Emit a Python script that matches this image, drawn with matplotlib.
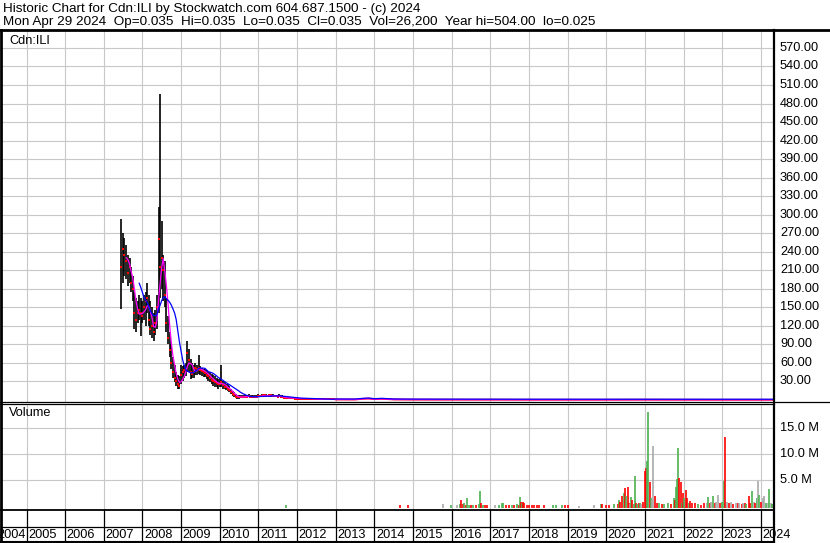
import matplotlib
matplotlib.use('Agg')
import matplotlib.pyplot as plt
import numpy as np
import pandas as pd

plt.rcParams['font.family'] = ['Liberation Sans', 'DejaVu Sans']

# ---- price bars, twice a month, 15 Jun 2007 .. 15 Dec 2012 ----
high = [293, 270, 262, 250, 235, 230, 215, 200, 175, 165, 160, 170, 165,                       # 2007
        160, 170, 175, 190, 170, 160, 150, 140, 145, 170, 313, 496,
        290, 235, 225, 165, 135, 110, 90, 70, 56, 45, 40, 38,                                   # 2008
        56, 55, 56, 60, 96, 82, 66, 60, 56, 60, 56, 72,
        55, 52, 50, 50, 48, 45, 45, 42, 40, 38, 35, 34,                                         # 2009
        35, 57, 30, 28, 26, 25, 22, 18, 15, 12, 10, 8,
        8, 7, 8, 8, 8, 8, 9, 8, 8, 8, 7, 7,                                                     # 2010
        9, 8, 9, 10, 9, 9, 8, 9, 10, 9, 8, 8,
        8, 9, 8, 7, 6, 5, 5, 5, 5, 4, 4, 4,                                                     # 2011
        4, 3, 3, 3, 3, 3, 3, 3, 2, 2, 2, 2,
        2, 2, 2, 2, 2, 2, 1, 1, 1, 1, 1, 1]                                                     # 2012
low = [147, 190, 200, 195, 185, 190, 175, 160, 115, 110, 125, 130, 104,
       125, 130, 120, 140, 120, 105, 100, 96, 105, 115, 140, 165,
       180, 160, 150, 110, 90, 70, 50, 35, 29, 22, 18, 17,
       26, 30, 35, 38, 45, 45, 34, 35, 35, 40, 40, 42,
       40, 38, 37, 37, 33, 30, 29, 25, 22, 21, 20, 18,
       20, 20, 18, 17, 16, 14, 12, 10, 6, 4, 3, 2,
       2, 3, 3, 4, 4, 4, 4, 4, 4, 4, 3, 3,
       4, 4, 5, 5, 5, 5, 4, 5, 5, 5, 4, 4,
       4, 4, 3, 3, 2, 2, 2, 2, 2, 2, 2, 2,
       1, 1, 1, 1, 1, 1, 1, 1, 1, 1, 1, 1,
       0.5, 0.5, 0.5, 0.5, 0.5, 0.5, 0.3, 0.3, 0.3, 0.3, 0.3, 0.3]
close = [215, 245, 235, 225, 205, 215, 190, 180, 140, 130, 140, 145, 140,
         135, 150, 160, 165, 130, 115, 120, 110, 125, 150, 260, 215,
         230, 210, 170, 125, 100, 80, 60, 45, 35, 30, 25, 22,
         40, 45, 48, 50, 75, 65, 45, 42, 45, 52, 50, 52,
         48, 46, 45, 44, 40, 38, 35, 32, 30, 28, 27, 25,
         26, 28, 24, 21, 20, 18, 16, 13, 9, 7, 5, 4,
         4, 5, 5, 5, 5, 5, 6, 5, 5, 5, 5, 5,
         6, 6, 6, 7, 7, 6, 6, 7, 7, 6, 6, 6,
         5, 6, 5, 4, 3, 3, 3, 3, 3, 3, 3, 2,
         2, 2, 2, 2, 2, 2, 2, 2, 1.5, 1.5, 1.5, 1.5,
         1, 1, 1, 1, 1, 1, 0.8, 0.8, 0.5, 0.5, 0.5, 0.5]

# after 2012 the stock sits near zero
tail_year = [2013.0, 2013.5, 2013.7, 2013.85, 2014.0, 2014.2, 2014.5, 2015.0, 2016.0,
             2017.0, 2018.0, 2019.0, 2020.0, 2021.0, 2022.0, 2023.0, 2024.0, 2024.33]
tail_close = [0.5, 0.4, 1.5, 2.0, 1.0, 1.5, 0.5, 0.3, 0.2,
              0.2, 0.1, 0.1, 0.1, 0.2, 0.1, 0.05, 0.04, 0.035]
tail_high = [1, 1, 3, 3, 2, 3, 1, 0.5, 0.4, 0.4, 0.2, 0.2, 0.2, 0.4, 0.2, 0.1, 0.1, 0.035]

# ---- weekly volume (millions), u = up week, d = down week, n = unchanged ----
vol_year = [2011.72, 2014.67, 2014.87, 2015.78, 2015.97, 2016.13, 2016.22, 2016.25, 2016.28, 2016.32,
            2016.36, 2016.40, 2016.45, 2016.49, 2016.55, 2016.62, 2016.70, 2016.73, 2016.76, 2016.80,
            2016.85, 2016.92, 2017.11, 2017.22, 2017.30, 2017.34, 2017.40, 2017.48, 2017.55, 2017.61,
            2017.70, 2017.74, 2017.77, 2017.80, 2017.82, 2017.85, 2017.87, 2017.94, 2018.00, 2018.07,
            2018.13, 2018.20, 2018.26, 2018.39, 2018.63, 2018.69, 2018.86, 2018.93, 2019.00, 2019.30,
            2019.69, 2019.85, 2019.90, 2019.99, 2020.07, 2020.20, 2020.29, 2020.33, 2020.36, 2020.40,
            2020.45, 2020.48, 2020.51, 2020.56, 2020.59, 2020.62, 2020.65, 2020.67, 2020.71, 2020.73,
            2020.76, 2020.79, 2020.85, 2020.88, 2020.91, 2020.96, 2021.00, 2021.03, 2021.05, 2021.09,
            2021.13, 2021.15, 2021.19, 2021.22, 2021.26, 2021.31, 2021.37, 2021.43, 2021.50, 2021.59,
            2021.67, 2021.74, 2021.77, 2021.80, 2021.83, 2021.86, 2021.89, 2021.92, 2021.95, 2021.98,
            2022.02, 2022.06, 2022.10, 2022.14, 2022.17, 2022.23, 2022.29, 2022.36, 2022.45, 2022.53,
            2022.60, 2022.64, 2022.68, 2022.71, 2022.76, 2022.80, 2022.84, 2022.90, 2022.95, 2022.99,
            2023.04, 2023.08, 2023.12, 2023.18, 2023.23, 2023.27, 2023.35, 2023.40, 2023.44, 2023.50,
            2023.53, 2023.58, 2023.61, 2023.68, 2023.73, 2023.77, 2023.81, 2023.86, 2023.90, 2023.92,
            2023.96, 2024.00, 2024.05, 2024.09, 2024.13, 2024.18, 2024.22, 2024.26, 2024.30]
vol_mil = [0.15, 0.1, 0.1, 0.45, 0.15, 0.1, 0.3, 1.2, 0.3, 0.5,
           0.2, 1.6, 0.2, 0.15, 0.2, 0.1, 0.3, 2.9, 0.55, 0.2,
           0.15, 0.2, 0.15, 0.15, 0.5, 0.55, 0.2, 0.15, 0.1, 0.15,
           0.3, 0.15, 1.7, 0.8, 0.6, 0.8, 0.5, 0.2, 0.15, 0.1,
           0.1, 0.1, 0.1, 0.15, 0.15, 0.1, 0.15, 0.2, 0.15, 0.05,
           0.1, 0.45, 0.35, 0.1, 0.2, 0.3, 0.3, 1.2, 0.7, 1.9,
           2.6, 3.4, 2.0, 3.7, 0.6, 0.3, 1.7, 1.2, 0.4, 5.8,
           0.5, 0.3, 0.6, 0.5, 0.3, 0.8, 6.8, 7.3, 8.6, 18.2,
           4.6, 1.5, 1.2, 11.6, 1.9, 0.6, 0.5, 0.3, 0.4, 0.5,
           0.3, 1.6, 1.2, 3.7, 5.2, 11.2, 5.4, 4.7, 0.5, 2.5,
           1.6, 3.1, 1.5, 0.6, 1.0, 0.5, 0.6, 0.3, 0.2, 0.5,
           0.6, 1.8, 0.5, 0.7, 2.0, 0.5, 0.8, 2.1, 0.6, 0.8,
           4.85, 13.3, 0.8, 0.6, 0.7, 0.4, 0.6, 0.5, 0.5, 0.4,
           0.6, 0.5, 0.3, 1.9, 0.5, 2.9, 0.8, 0.5, 1.5, 4.9,
           2.1, 0.8, 1.5, 1.9, 0.6, 0.5, 3.3, 0.6, 0.3]
vol_dir = ['u', 'd', 'd', 'n', 'u', 'n', 'u', 'd', 'd', 'u',
           'd', 'u', 'u', 'd', 'u', 'd', 'u', 'u', 'd', 'u',
           'd', 'd', 'n', 'u', 'u', 'u', 'd', 'd', 'u', 'd',
           'u', 'd', 'u', 'd', 'u', 'd', 'd', 'd', 'd', 'd',
           'd', 'd', 'd', 'd', 'u', 'u', 'u', 'd', 'd', 'n',
           'n', 'u', 'd', 'd', 'd', 'u', 'd', 'u', 'd', 'd',
           'u', 'd', 'u', 'd', 'd', 'n', 'u', 'd', 'u', 'u',
           'd', 'u', 'd', 'u', 'n', 'd', 'd', 'd', 'u', 'u',
           'd', 'u', 'n', 'n', 'd', 'd', 'u', 'd', 'u', 'u',
           'd', 'u', 'd', 'u', 'u', 'u', 'd', 'd', 'u', 'd',
           'u', 'd', 'd', 'u', 'd', 'd', 'd', 'u', 'd', 'd',
           'n', 'u', 'd', 'n', 'u', 'd', 'n', 'n', 'd', 'u',
           'u', 'd', 'n', 'd', 'n', 'd', 'n', 'd', 'n', 'd',
           'n', 'd', 'u', 'd', 'd', 'u', 'n', 'd', 'u', 'n',
           'u', 'd', 'n', 'n', 'u', 'n', 'u', 'n', 'u']

years = list(range(2005, 2025))
price_ticks = list(range(30, 571, 30))
vol_ticks = [5, 10, 15]

header1 = 'Historic Chart for Cdn:ILI by Stockwatch.com 604.687.1500 - (c) 2024'
header2 = ('Mon Apr 29 2024  Op=0.035  Hi=0.035  Lo=0.035  Cl=0.035  '
           'Vol=26,200  Year hi=504.00  lo=0.025')

# decimal years for the bar dates
d = pd.date_range('2007-06-15', periods=len(close), freq='SMS')
bar_year = np.asarray(d.year + (d.dayofyear - 1) / np.where(d.is_leap_year, 366, 365))

ma_short = pd.Series(close).rolling(4).mean().to_numpy()
ma_long = pd.Series(close).rolling(12).mean().to_numpy()

W, H = 830, 543
fig = plt.figure(figsize=(W / 100, H / 100), dpi=100)


def box(x0, y0, x1, y1):
    return [x0 / W, 1 - y1 / H, (x1 - x0) / W, (y1 - y0) / H]


xlim = (2004.339, 2024.339)
grid_c = '#c8c8c8'
fs = 9.2
RX = 774  # right edge of the plotting area, pixels

# price panel
ax = fig.add_axes(box(1, 31, RX, 401.5))
ax.set_xlim(*xlim)
ax.set_ylim(-2.8, 597.5)
ax.set_xticks(years)
ax.set_yticks(price_ticks)
ax.grid(True, color=grid_c, lw=0.8)
ax.tick_params(length=0, labelbottom=False, labelleft=False)
for s in ax.spines.values():
    s.set_visible(False)
ax.vlines(bar_year, low, high, color='black', lw=1.2, zorder=3)
ax.vlines(tail_year, tail_close, tail_high, color='black', lw=1.2, zorder=3)
ax.plot(bar_year, close, 's', color='red', ms=1.8, mew=0, zorder=4)
ax.plot(tail_year, tail_close, color='red', lw=1.3, zorder=4)
ax.plot(np.r_[bar_year, tail_year], np.r_[ma_short, tail_close], color='#ff00ff', lw=0.9, zorder=5)
ax.plot(np.r_[bar_year, tail_year], np.r_[ma_long, np.array(tail_close) + 0.8],
        color='#0000ff', lw=0.9, zorder=6)
pw = RX - 1
for v in price_ticks:
    ax.text(1 + 6 / pw, v, f'{v:.2f}', transform=ax.get_yaxis_transform(),
            ha='left', va='center', fontsize=fs, clip_on=False)
ax.text(8 / pw, 1 - 10 / 370.5, 'Cdn:ILI', transform=ax.transAxes, ha='left', va='center', fontsize=fs)

# volume panel
colors = {'u': '#4cb050', 'd': '#ff0000', 'n': '#a9a9a9'}
axv = fig.add_axes(box(1, 403.5, RX, 509))
axv.set_xlim(*xlim)
axv.set_ylim(-0.58, 19.8)
axv.set_xticks(years)
axv.set_yticks(vol_ticks)
axv.grid(True, color=grid_c, lw=0.8)
axv.tick_params(length=0, labelbottom=False, labelleft=False)
for s in axv.spines.values():
    s.set_visible(False)
axv.vlines(vol_year, -0.3, vol_mil, colors=[colors[c] for c in vol_dir], lw=1.2, zorder=3)
for v in vol_ticks:
    axv.text(1 + 6 / pw, v, f'{v:.1f} M', transform=axv.get_yaxis_transform(),
             ha='left', va='center', fontsize=fs, clip_on=False)
axv.text(8 / pw, 1 - 10 / 105.5, 'Volume', transform=axv.transAxes, ha='left', va='center', fontsize=fs)

# year strip
axy = fig.add_axes(box(1, 509, RX, 542))
axy.set_xlim(*xlim)
axy.set_ylim(0, 1)
axy.axis('off')
axy.vlines(years, 0, 1, color='black', lw=0.9)
axy.axhline(15 / 33, color='black', lw=0.9)
step = 1 / 38.6
for y in years:
    axy.text(y + 1.5 * step, 0.22, str(y), ha='left', va='center', fontsize=fs, clip_on=False)
axy.text(2005 - 1 * step, 0.22, '2004', ha='right', va='center', fontsize=fs, clip_on=False)

# header and frame lines
fig.text(3 / W, 1 - 9 / H, header1, ha='left', va='center', fontsize=9.7)
fig.text(3 / W, 1 - 21.5 / H, header2, ha='left', va='center', fontsize=9.7)
ov = fig.add_axes([0, 0, 1, 1], zorder=10)
ov.set_xlim(0, W)
ov.set_ylim(H, 0)
ov.axis('off')
ov.plot([0, W], [29.5, 29.5], color='black', lw=2)
ov.plot([0, W], [401.5, 401.5], color='black', lw=0.9)
ov.plot([0, RX], [403.5, 403.5], color='black', lw=0.9)
ov.plot([0, RX], [509.5, 509.5], color='black', lw=1.3)
ov.plot([0, RX], [542, 542], color='black', lw=1.5)
ov.plot([1, 1], [29.5, H], color='black', lw=2)
ov.plot([RX, RX], [29.5, H], color='black', lw=1.6)

fig.savefig('out.png', dpi=100)
